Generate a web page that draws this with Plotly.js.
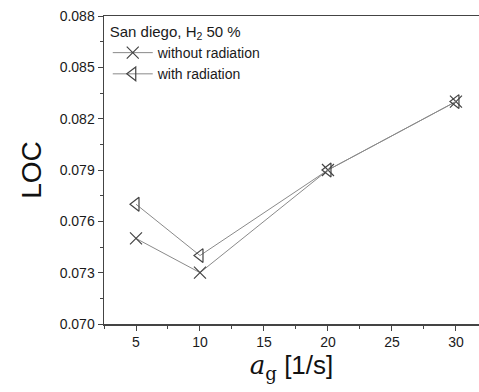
<!DOCTYPE html>
<html>
<head>
<meta charset="utf-8">
<script src="https://cdn.plot.ly/plotly-3.0.1.min.js"></script>
<style>html,body{margin:0;padding:0;background:#fff;}#chart{width:479px;height:392px;}</style>
</head>
<body>
<div id="chart"></div>
<script>
const agValues = [5, 10, 20, 30];
const locWithout = [0.075, 0.073, 0.079, 0.083];
const locWith = [0.077, 0.074, 0.079, 0.083];
const yTickVals = [0.070, 0.073, 0.076, 0.079, 0.082, 0.085, 0.088];
const xTickVals = [5, 10, 15, 20, 25, 30];

const traces = [
  {
    x: agValues, y: locWithout, name: 'without radiation',
    mode: 'lines+markers', type: 'scatter',
    line: {color: '#8a8a8a', width: 1},
    marker: {symbol: 'x-thin-open', size: 12, color: '#444', line: {color: '#444', width: 1.2}}
  },
  {
    x: agValues, y: locWith, name: 'with radiation',
    mode: 'lines+markers', type: 'scatter',
    line: {color: '#8a8a8a', width: 1},
    marker: {symbol: 'triangle-left-open', size: 12, color: '#444', line: {color: '#444', width: 1.2}}
  }
];

const axisFont = {family: 'Liberation Sans, Arial, sans-serif', size: 14, color: '#1a1a1a'};

const layout = {
  width: 479, height: 392,
  margin: {l: 104, r: 0, t: 16, b: 68},
  paper_bgcolor: '#fff', plot_bgcolor: '#fff',
  showlegend: true,
  legend: {
    x: 0.01, y: 0.995, xanchor: 'left', yanchor: 'top',
    bgcolor: 'rgba(0,0,0,0)',
    font: {family: 'Liberation Sans, Arial, sans-serif', size: 14, color: '#1a1a1a'},
    title: {text: 'San diego, H<sub>2</sub> 50 %', font: {family: 'Liberation Sans, Arial, sans-serif', size: 15, color: '#1a1a1a'}},
    tracegroupgap: 0, itemwidth: 40
  },
  xaxis: {
    range: [2.5, 31.8],
    tickvals: xTickVals, ticktext: xTickVals.map(String),
    ticks: 'outside', ticklen: 5, tickwidth: 1, tickcolor: '#444',
    showline: true, linecolor: '#444', linewidth: 1.5, mirror: true,
    showgrid: false, zeroline: false,
    tickfont: axisFont,
    minor: {dtick: 2.5, tick0: 0, ticks: 'outside', ticklen: 3, tickcolor: '#444', showgrid: false},
    title: {text: '<span style="font-family:DejaVu Serif"><i>a</i><sub>g</sub></span> [1/s]', font: {family: 'Liberation Sans, Arial, sans-serif', size: 26, color: '#111'}, standoff: 6}
  },
  yaxis: {
    range: [0.070, 0.088],
    tickvals: yTickVals, ticktext: yTickVals.map(v => v.toFixed(3)),
    ticks: 'outside', ticklen: 5, tickwidth: 1, tickcolor: '#444',
    showline: true, linecolor: '#444', linewidth: 1.5,
    showgrid: false, zeroline: false,
    tickfont: axisFont,
    minor: {dtick: 0.0015, tick0: 0.070, ticks: 'outside', ticklen: 3, tickcolor: '#444', showgrid: false},
    title: {text: 'LOC', font: {family: 'Liberation Sans, Arial, sans-serif', size: 28, color: '#111'}, standoff: 10}
  }
};

Plotly.newPlot('chart', traces, layout, {displayModeBar: false, staticPlot: true});
</script>
</body>
</html>
